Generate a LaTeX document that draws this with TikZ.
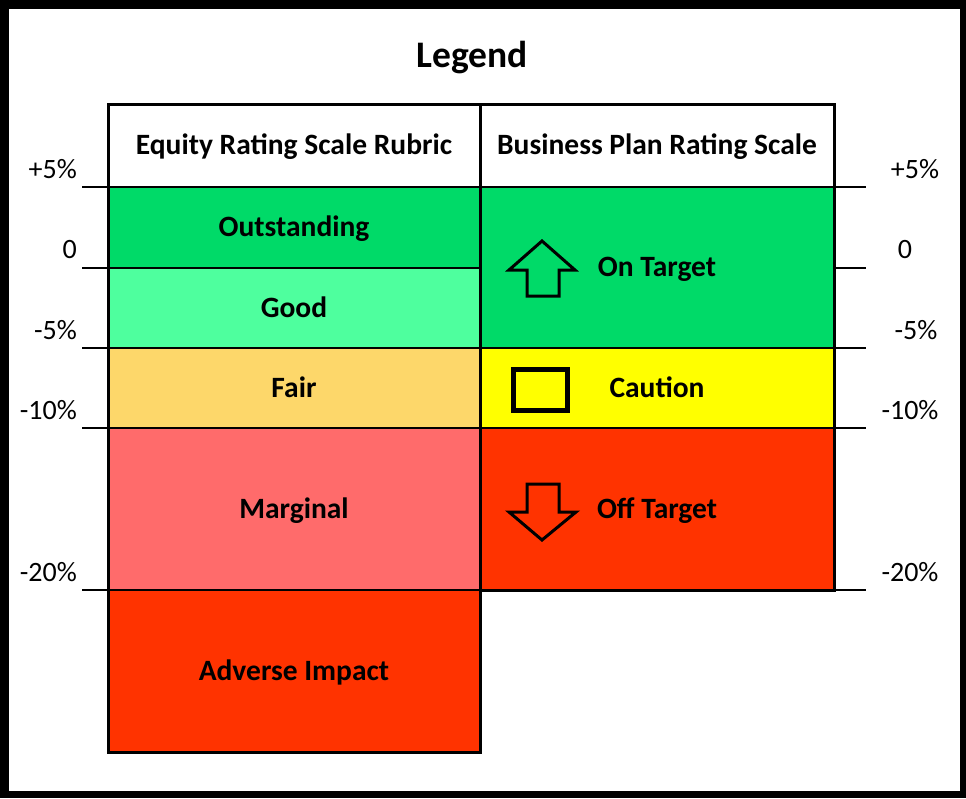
\documentclass[tikz,border=0pt]{standalone}
\usepackage{fontspec}
\setmainfont{Carlito}

\definecolor{topgreen}{RGB}{0,218,104}
\definecolor{lightgreen}{RGB}{78,255,158}
\definecolor{fairorange}{RGB}{253,215,106}
\definecolor{marginred}{RGB}{255,107,107}
\definecolor{hotred}{RGB}{255,51,0}
\definecolor{cautionyellow}{RGB}{255,255,0}

\tikzset{
    cell/.style={draw, line width=1.5pt, inner sep=0pt, align=center,
        text height=21pt, text depth=3pt,
        font=\bfseries\fontsize{29.5}{31}\selectfont},
    pct/.style={font=\fontsize{28}{30}\selectfont, inner sep=0pt},
    sign/.style={draw, line width=3pt, line join=miter}
}

\begin{document}
\begin{tikzpicture}[x=1pt, y=-1pt]
    % frame
    \fill[black] (0,0) rectangle (966,798);
    \fill[white] (9,9) rectangle (960,791);
    \useasboundingbox (0,0) rectangle (966,798);

    \node[font=\bfseries\fontsize{37.5}{40}\selectfont] (title) at (472,58) {Legend};

    % left column
    \node[cell, fill=white, minimum width=372, minimum height=83] (equity) at (294,145.5) {Equity Rating Scale Rubric};
    \node[cell, fill=topgreen, minimum width=372, minimum height=81] (outst) at (294,227.5) {Outstanding};
    \node[cell, fill=lightgreen, minimum width=372, minimum height=80] (good) at (294,308) {Good};
    \node[cell, fill=fairorange, minimum width=372, minimum height=80] (fair) at (294,388) {Fair};
    \node[cell, fill=marginred, minimum width=372, minimum height=162] (marg) at (294,509) {Marginal};
    \node[cell, fill=hotred, minimum width=372, minimum height=162] (adverse) at (294,671) {Adverse Impact};

    % right column
    \node[cell, fill=white, minimum width=354, minimum height=83] (plan) at (657,145.5) {Business Plan Rating Scale};
    \node[cell, fill=topgreen, minimum width=354, minimum height=161] (ontgt) at (657,267.5) {On Target};
    \node[cell, fill=cautionyellow, minimum width=354, minimum height=80] (caution) at (657,388) {Caution};
    \node[cell, fill=hotred, minimum width=354, minimum height=162] (offtgt) at (657,509) {Off Target};

    % outline
    \draw[line width=3pt, line join=miter] (108,104) -- (834,104) -- (834,590) -- (480,590)
        -- (480,752) -- (108,752) -- cycle;
    \draw[line width=3pt] (480,104) -- (480,590);

    % signs
    \draw[sign] (542,241) -- (575,270) -- (559,270) -- (559,296) -- (527,296)
        -- (527,270) -- (509,270) -- cycle;
    \draw[line width=5pt] (513.5,369.5) rectangle (567.5,410.5);
    \draw[sign] (527,484) -- (559,484) -- (559,512) -- (576,512) -- (542,540)
        -- (509,512) -- (527,512) -- cycle;

    % scale ticks
    \foreach \y in {187,268,348,428,590} {
        \draw[line width=1.5pt] (82,\y) -- (108,\y);
        \draw[line width=1.5pt] (834,\y) -- (866,\y);
    }

    % scale labels
    \node[pct, anchor=east] (lp5) at (77,169) {+5\%};
    \node[pct, anchor=east] (l0) at (77,250) {0};
    \node[pct, anchor=east] (lm5) at (77,330) {-5\%};
    \node[pct, anchor=east] (lm10) at (77,410) {-10\%};
    \node[pct, anchor=east] (lm20) at (77,572) {-20\%};

    \node[pct] (rp5) at (915,169) {+5\%};
    \node[pct] (r0) at (905,250) {0};
    \node[pct] (rm5) at (916,330) {-5\%};
    \node[pct] (rm10) at (910,410) {-10\%};
    \node[pct] (rm20) at (910,572) {-20\%};
\end{tikzpicture}
\end{document}
